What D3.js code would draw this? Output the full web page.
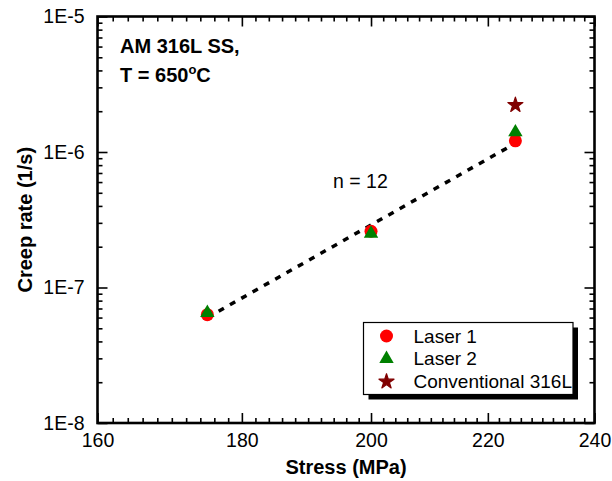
<!DOCTYPE html>
<html>
<head>
<meta charset="utf-8">
<script src="https://cdn.jsdelivr.net/npm/d3@7"></script>
<style>
  body { margin: 0; background: #fff; }
  text { font-family: "Liberation Sans", Arial, sans-serif; }
</style>
</head>
<body>
<div id="graph_plot"></div>
<script>
// data
var stressLaser1 = [175, 200, 225];
var rateLaser1 = [6.3e-8, 2.6e-7, 1.21e-6];
var stressLaser2 = [175, 200, 225];
var rateLaser2 = [6.5e-8, 2.5e-7, 1.4e-6];
var stressConv = [225];
var rateConv = [2.22e-6];
// power law fit, n = 12
var fitStress = [175, 224];
var fitRate = [6.0e-8, 1.1e-6];

var xTicks = [160, 180, 200, 220, 240];
var yTicks = [1e-8, 1e-7, 1e-6, 1e-5];
var legendLabels = ["Laser 1", "Laser 2", "Conventional 316L"];

var W = 612, H = 481;
var margin = { top: 16.5, right: 17.5, bottom: 58, left: 97.5 },
    width = W - margin.left - margin.right,
    height = H - margin.top - margin.bottom;

var svg = d3.select("#graph_plot").append("svg")
    .attr("width", W)
    .attr("height", H);

var g = svg.append("g")
    .attr("transform", `translate(${margin.left},${margin.top})`);

var x = d3.scaleLog().domain([160, 240]).range([0, width]);
var y = d3.scaleLog().domain([1e-8, 1e-5]).range([height, 0]);

// minor ticks
var xMinor = d3.range(160, 241, 2).filter(d => xTicks.indexOf(d) < 0);
var yMinor = [];
[-8, -7, -6].forEach(e => { for (var k = 2; k <= 9; k++) yMinor.push(k * Math.pow(10, e)); });

function styleAxis(sel) {
  sel.select(".domain").remove();
  sel.selectAll("line").attr("stroke", "#000").attr("stroke-width", 1.6);
  sel.selectAll("text").attr("fill", "#000").style("font-size", "19.5px");
}

// bottom / top
g.append("g").attr("transform", `translate(0,${height})`)
  .call(d3.axisBottom(x).tickValues(xTicks).tickFormat(d3.format("d")).tickSize(-10).tickPadding(10))
  .call(styleAxis);
g.append("g").attr("transform", `translate(0,${height})`)
  .call(d3.axisBottom(x).tickValues(xMinor).tickFormat("").tickSize(-5))
  .call(styleAxis);
g.append("g")
  .call(d3.axisTop(x).tickValues(xTicks).tickFormat("").tickSize(-10))
  .call(styleAxis);
g.append("g")
  .call(d3.axisTop(x).tickValues(xMinor).tickFormat("").tickSize(-5))
  .call(styleAxis);

// left / right
g.append("g")
  .call(d3.axisLeft(y).tickValues(yTicks).tickFormat(d => "1E" + Math.round(Math.log10(d))).tickSize(-10).tickPadding(13))
  .call(styleAxis);
g.append("g")
  .call(d3.axisLeft(y).tickValues(yMinor).tickFormat("").tickSize(-5))
  .call(styleAxis);
g.append("g").attr("transform", `translate(${width},0)`)
  .call(d3.axisRight(y).tickValues(yTicks).tickFormat("").tickSize(-10))
  .call(styleAxis);
g.append("g").attr("transform", `translate(${width},0)`)
  .call(d3.axisRight(y).tickValues(yMinor).tickFormat("").tickSize(-5))
  .call(styleAxis);

// frame
g.append("rect")
  .attr("width", width).attr("height", height)
  .attr("fill", "none").attr("stroke", "#000").attr("stroke-width", 2.6);

// axis titles
svg.append("text")
  .attr("x", margin.left + width / 2).attr("y", 474)
  .attr("text-anchor", "middle")
  .style("font-size", "20px").style("font-weight", "bold")
  .text("Stress (MPa)");
svg.append("text")
  .attr("transform", `translate(31.5,${margin.top + height / 2}) rotate(-90)`)
  .attr("text-anchor", "middle")
  .style("font-size", "20px").style("font-weight", "bold")
  .text("Creep rate (1/s)");

// fit line
var fitData = fitStress.map((s, i) => [s, fitRate[i]]);
g.append("path")
  .datum(fitData)
  .attr("fill", "none")
  .attr("stroke", "#000")
  .attr("stroke-width", 3.5)
  .attr("stroke-dasharray", "6,7")
  .attr("d", d3.line().x(d => x(d[0])).y(d => y(d[1])));

// markers
var circle = d3.symbol().type(d3.symbolCircle).size(133);
var tri = d3.symbol().type(d3.symbolTriangle).size(90);
var star = d3.symbol().type(d3.symbolStar).size(70);

g.selectAll(".l1").data(stressLaser1).enter().append("path")
  .attr("transform", (d, i) => `translate(${x(d)},${y(rateLaser1[i])})`)
  .attr("d", circle).attr("fill", "#ff0000");
g.selectAll(".l2").data(stressLaser2).enter().append("path")
  .attr("transform", (d, i) => `translate(${x(d)},${y(rateLaser2[i])})`)
  .attr("d", tri).attr("fill", "#008000");
g.selectAll(".cv").data(stressConv).enter().append("path")
  .attr("transform", (d, i) => `translate(${x(d)},${y(rateConv[i])})`)
  .attr("d", star).attr("fill", "#800000")
  .attr("stroke", "#800000").attr("stroke-width", 1.2).attr("stroke-linejoin", "round");

// annotations
var note = svg.append("g").style("font-size", "20px").style("font-weight", "bold");
note.append("text").attr("x", 120).attr("y", 53).text("AM 316L SS,");
var t2 = note.append("text").attr("x", 120).attr("y", 82);
t2.append("tspan").text("T = 650");
t2.append("tspan").attr("dy", -8).style("font-size", "13px").text("o");
t2.append("tspan").attr("dy", 8).text("C");

svg.append("text")
  .attr("x", 333).attr("y", 188)
  .style("font-size", "19.5px")
  .text("n = 12");

// legend
var lx = 363.5, ly = 322.5, lw = 209.5, lh = 72;
svg.append("rect")
  .attr("x", lx + 5).attr("y", ly + 5).attr("width", lw).attr("height", lh)
  .attr("fill", "#000");
svg.append("rect")
  .attr("x", lx).attr("y", ly).attr("width", lw).attr("height", lh)
  .attr("fill", "#fff").attr("stroke", "#000").attr("stroke-width", 1.2);

var legSymbols = [
  { sym: circle, color: "#ff0000", sw: 0 },
  { sym: tri, color: "#008000", sw: 0 },
  { sym: star, color: "#800000", sw: 1.2 }
];
var leg = svg.selectAll(".leg").data(legendLabels).enter().append("g")
  .attr("transform", (d, i) => `translate(${lx},${ly + 13.5 + i * 22.8})`);
leg.append("path")
  .attr("transform", "translate(23,0)")
  .attr("d", (d, i) => legSymbols[i].sym())
  .attr("fill", (d, i) => legSymbols[i].color)
  .attr("stroke", (d, i) => legSymbols[i].color)
  .attr("stroke-width", (d, i) => legSymbols[i].sw)
  .attr("stroke-linejoin", "round");
leg.append("text")
  .attr("x", 50).attr("y", 6.5)
  .style("font-size", "19px")
  .text(d => d);
</script>
</body>
</html>
